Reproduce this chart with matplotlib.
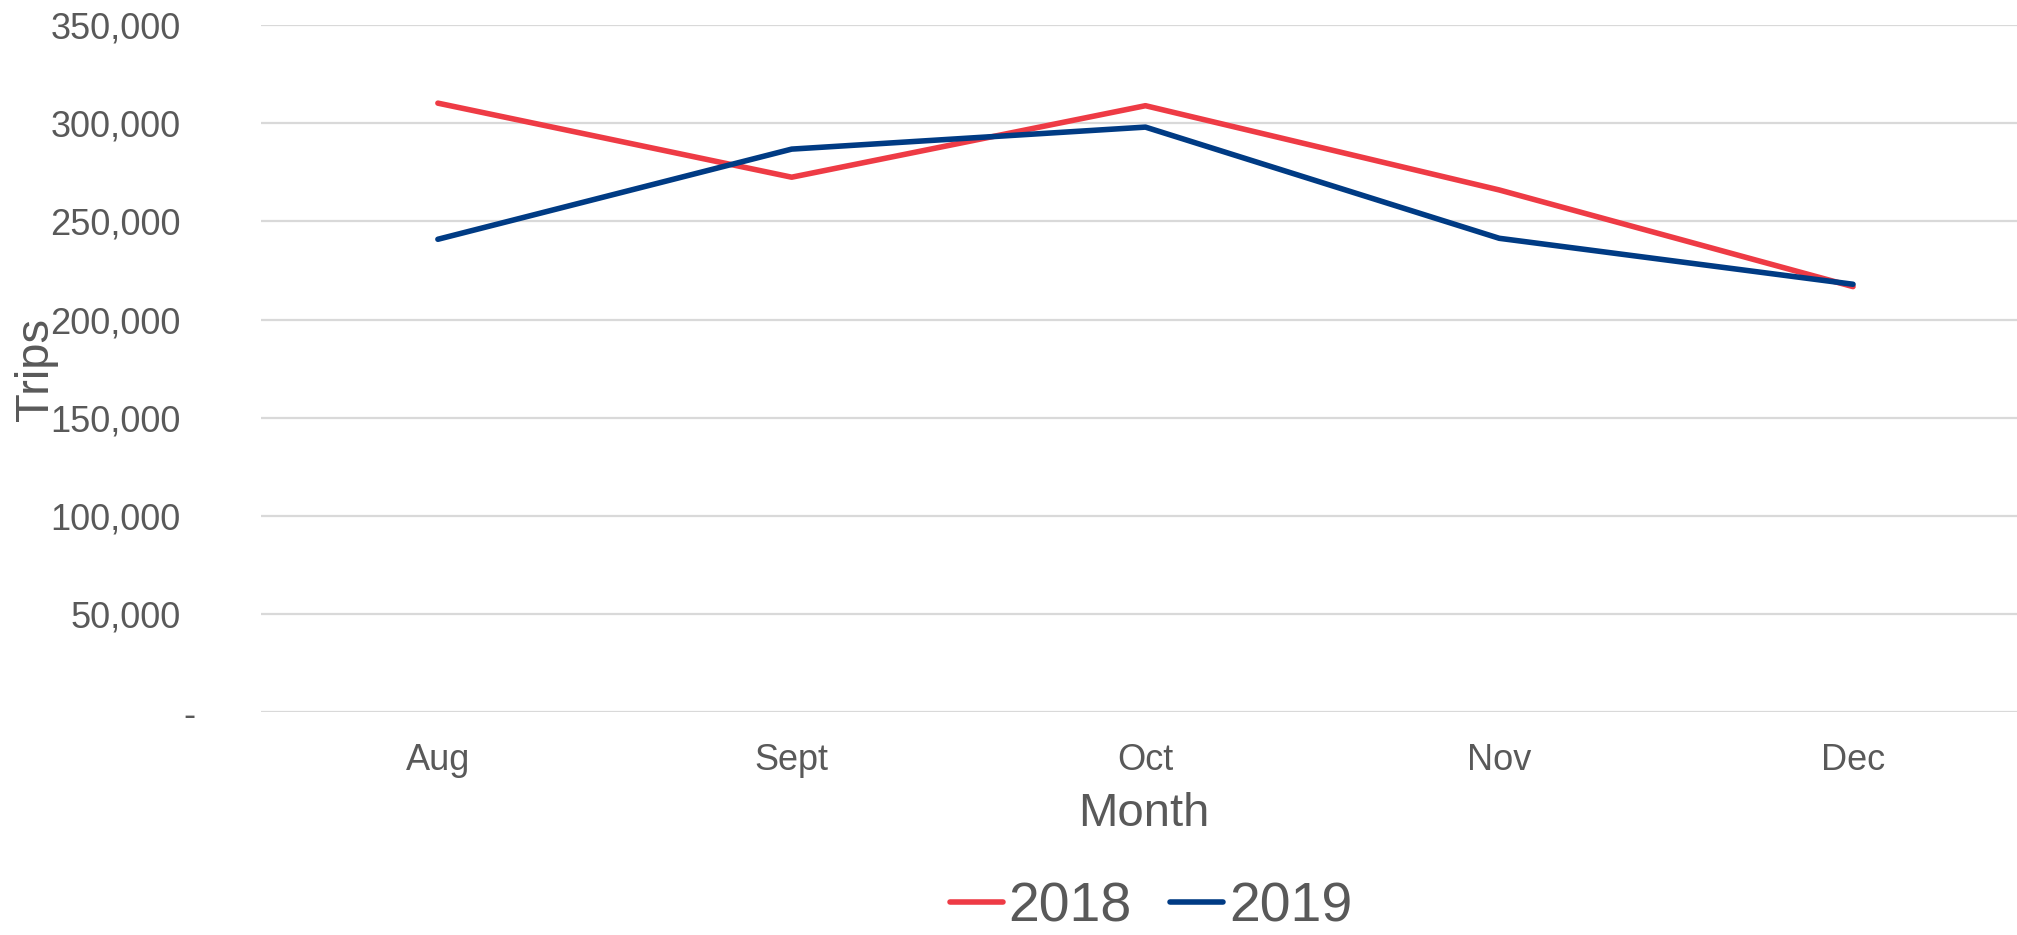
import matplotlib.pyplot as plt
from matplotlib.ticker import FuncFormatter
from matplotlib.transforms import ScaledTranslation
import numpy as np

months = ['Aug', 'Sept', 'Oct', 'Nov', 'Dec']
trips_2018 = [310200, 272500, 308900, 266000, 216800]
trips_2019 = [240900, 286800, 298000, 241400, 218000]
y_ticks = [0, 50000, 100000, 150000, 200000, 250000, 300000, 350000]

# style
text_color = '#595959'
grid_color = '#D9D9D9'
color_2018 = '#EE3B45'
color_2019 = '#003B84'
plt.rcParams['font.family'] = ['Liberation Sans', 'DejaVu Sans']

fig = plt.figure(figsize=(20.17, 9.35), dpi=100)
ax = fig.add_axes([0.1294, 0.238, 0.877, 0.7353])

x = np.arange(len(months))
ax.plot(x, trips_2018, color=color_2018, linewidth=4.0, solid_capstyle='round',
        solid_joinstyle='round', label='2018', zorder=3)
ax.plot(x, trips_2019, color=color_2019, linewidth=4.0, solid_capstyle='round',
        solid_joinstyle='round', label='2019', zorder=4)

ax.set_xlim(-0.5, len(months) - 0.5)
ax.set_ylim(0, 350000)
ax.set_yticks(y_ticks)
ax.set_xticks(x)
ax.set_xticklabels(months)
ax.yaxis.set_major_formatter(FuncFormatter(lambda v, p: '-' if v == 0 else f'{int(v):,}'))

for s in ax.spines.values():
    s.set_visible(False)
ax.grid(axis='y', color=grid_color, linewidth=1.6, zorder=0)
ax.tick_params(axis='both', length=0, labelsize=26, labelcolor=text_color)
ax.tick_params(axis='y', pad=58)
ax.tick_params(axis='x', pad=22)

# excel puts the zero dash a little further right
zero_lbl = ax.yaxis.get_major_ticks()[0].label1
zero_lbl.set_transform(zero_lbl.get_transform() + ScaledTranslation(0.15, 0, fig.dpi_scale_trans))

fig.text(1144 / 2017, 1 - 814 / 935, 'Month', fontsize=34, color=text_color,
         ha='center', va='center')
fig.text(36 / 2017, 1 - 369 / 935, 'Trips', fontsize=34, color=text_color,
         ha='center', va='center', rotation=90)

leg = fig.legend(loc='center', bbox_to_anchor=(1151 / 2017, 1 - 907 / 935), ncol=2,
                 frameon=False, fontsize=40, handlelength=0.95, handletextpad=0.1,
                 columnspacing=0.7)
for t in leg.get_texts():
    t.set_color(text_color)

plt.savefig('out.png', dpi=100)
plt.close()
